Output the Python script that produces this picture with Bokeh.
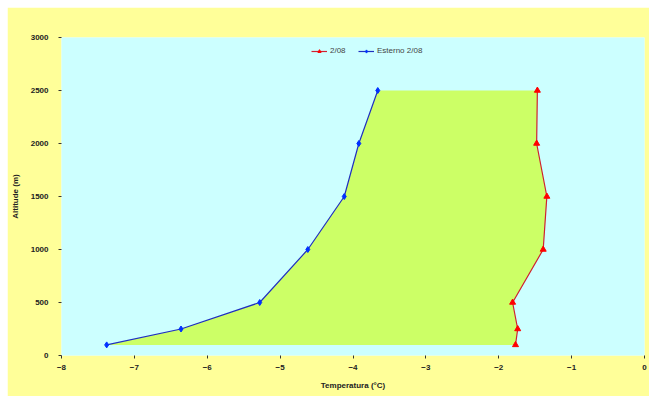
from bokeh.plotting import figure
from bokeh.embed import file_html
from bokeh.resources import INLINE
from bokeh.layouts import column, row
from bokeh.models import Range1d, FixedTicker, Legend, LegendItem, Spacer

altitude = [2500, 2000, 1500, 1000, 500, 250, 100]
temp_out = [-3.66, -3.92, -4.12, -4.62, -5.28, -6.36, -7.38]
temp_in = [-1.47, -1.48, -1.34, -1.39, -1.81, -1.74, -1.77]
x_ticks = [-8, -7, -6, -5, -4, -3, -2, -1, 0]
y_ticks = [0, 500, 1000, 1500, 2000, 2500, 3000]
name_in = "2/08"
name_out = "Esterno 2/08"

p = figure(width=642, height=389, output_backend="svg", toolbar_location=None,
           x_range=Range1d(-8, 0), y_range=Range1d(0, 3000),
           min_border_left=50, min_border_right=5, min_border_top=30, min_border_bottom=41)
p.background_fill_color = "#CCFFFF"
p.border_fill_color = "#FFFF99"
p.outline_line_color = None
p.xgrid.visible = False
p.ygrid.visible = False

# filled region between the two profiles
px = temp_out + temp_in[::-1]
py = altitude + altitude[::-1]
p.patch(px, py, fill_color="#CCFF66", line_color=None)

r_in = p.line(temp_in, altitude, line_color="#D02030", line_width=1.2)
m_in = p.scatter(temp_in, altitude, marker="triangle", size=6, fill_color="#FF0000", line_color="#FF0000")
r_out = p.line(temp_out, altitude, line_color="#2030C0", line_width=1.2)
m_out = p.scatter(temp_out, altitude, marker="diamond", size=6, fill_color="#0030FF", line_color="#0030FF")

legend = Legend(items=[LegendItem(label=name_in, renderers=[r_in, m_in]),
                       LegendItem(label=name_out, renderers=[r_out, m_out])],
                orientation="horizontal", location=(250, 300),
                background_fill_alpha=0, border_line_color=None,
                label_text_font_size="8px", label_text_font="Liberation Sans",
                label_text_color="#444444", glyph_width=16, glyph_height=8,
                label_standoff=3, spacing=8, margin=0, padding=2)
p.add_layout(legend)

for ax in (p.xaxis[0], p.yaxis[0]):
    ax.axis_line_color = None
    ax.major_tick_line_color = "#333333"
    ax.major_tick_in = 0
    ax.major_tick_out = 3
    ax.minor_tick_line_color = None
    ax.major_label_text_font = "Liberation Sans"
    ax.major_label_text_font_size = "8px"
    ax.major_label_text_font_style = "bold"
    ax.major_label_text_color = "#222222"
    ax.axis_label_text_font = "Liberation Sans"
    ax.axis_label_text_font_size = "8px"
    ax.axis_label_text_font_style = "bold"
    ax.axis_label_text_color = "#222222"

p.xaxis.ticker = FixedTicker(ticks=x_ticks)
p.yaxis.ticker = FixedTicker(ticks=y_ticks)
p.xaxis.axis_label = "Temperatura (°C)"
p.yaxis.axis_label = "Altitude (m)"
p.xaxis.major_label_standoff = 6
p.yaxis.major_label_standoff = 10
p.xaxis.axis_label_standoff = 8
p.yaxis.axis_label_standoff = 8

layout = column(Spacer(height=7), row(Spacer(width=7), p))
open("out.html", "w").write(file_html(layout, INLINE))
